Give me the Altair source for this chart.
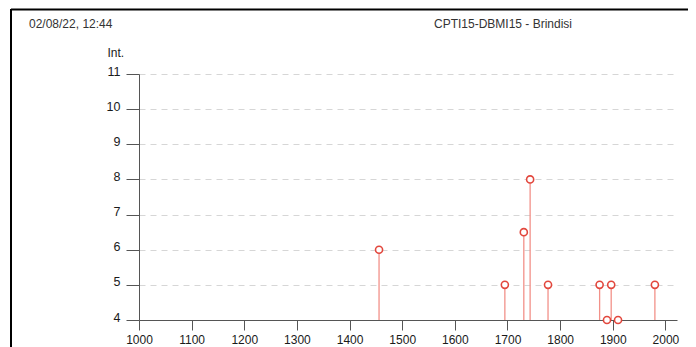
import altair as alt
import pandas as pd

# ---- data ----
years = [1456, 1695, 1731, 1743, 1777, 1875, 1889, 1897, 1910, 1980]
intensity = [6, 5, 6.5, 8, 5, 5, 4, 5, 4, 5]
x_ticks = list(range(1000, 2001, 50))
y_ticks = [4, 5, 6, 7, 8, 9, 10, 11]
header_left = "02/08/22, 12:44"
header_right = "CPTI15-DBMI15 - Brindisi"
y_title = "Int."
baseline = 4

df = pd.DataFrame({"year": years, "int": intensity})

FONT = "Liberation Sans"
W, H = 538, 246

xscale = alt.Scale(domain=[1000, 2022], nice=False, zero=False)
yscale = alt.Scale(domain=[4, 11], nice=False, zero=False)

xaxis = alt.Axis(
    values=x_ticks,
    format="d",
    labelExpr="datum.value % 100 === 0 ? datum.label : ''",
    tickSize={"condition": {"test": "datum.value % 100 === 0", "value": 10}, "value": 5},
    labelPadding=4,
    labelOverlap=False,
    grid=False,
    title=None,
    domainColor="#555555",
    tickColor="#555555",
    labelColor="#1a1a1a",
    labelFont=FONT,
    labelFontSize=12,
    labelFlush=False,
)
yaxis = alt.Axis(
    values=y_ticks,
    tickCount=8,
    labelOverlap=False,
    tickSize=13,
    labelPadding=6,
    labelOffset=-3,
    grid=True,
    gridDash=[6, 5],
    gridColor="#d6d6d6",
    domainColor="#555555",
    tickColor="#555555",
    labelColor="#1a1a1a",
    labelFont=FONT,
    labelFontSize=12.5,
    title=y_title,
    titleAngle=0,
    titleX=-32,
    titleY=-22,
    titleAlign="left",
    titleBaseline="middle",
    titleFont=FONT,
    titleFontSize=12,
    titleFontWeight="normal",
    titleColor="#1a1a1a",
)

base = alt.Chart(df)

stems = base.mark_rule(color="#f29189", strokeWidth=1.3).encode(
    x=alt.X("year:Q", scale=xscale, axis=xaxis),
    y=alt.Y("int:Q", scale=yscale, axis=yaxis),
    y2=alt.datum(baseline),
)

points = base.mark_point(
    shape="circle", filled=False, fill="white", fillOpacity=1,
    stroke="#e2473d", strokeWidth=1.6, size=50, opacity=1,
).encode(
    x=alt.X("year:Q", scale=xscale),
    y=alt.Y("int:Q", scale=yscale),
)

one = alt.Data(values=[{"a": 1}])
frame_top = alt.Chart(one).mark_rule(color="black", strokeWidth=2).encode(
    x=alt.value(-128), x2=alt.value(560), y=alt.value(-64.5)
)
frame_left = alt.Chart(one).mark_rule(color="black", strokeWidth=2).encode(
    x=alt.value(-128), y=alt.value(-65), y2=alt.value(300)
)

txt_left = alt.Chart(alt.Data(values=[{"t": header_left}])).mark_text(
    align="left", baseline="middle", font=FONT, fontSize=12, color="#333333"
).encode(x=alt.value(-110), y=alt.value(-50), text="t:N")

txt_right = alt.Chart(alt.Data(values=[{"t": header_right}])).mark_text(
    align="left", baseline="middle", font=FONT, fontSize=12, color="#333333"
).encode(x=alt.value(295), y=alt.value(-50), text="t:N")

chart = alt.layer(stems, points, frame_top, frame_left, txt_left, txt_right).properties(
    width=W,
    height=H,
    autosize=alt.AutoSizeParams(type="none"),
    padding={"left": 131, "top": 66, "right": 11, "bottom": 30},
).configure_view(stroke=None)

chart.save("out.html", embed_options={"renderer": "svg", "actions": False})
